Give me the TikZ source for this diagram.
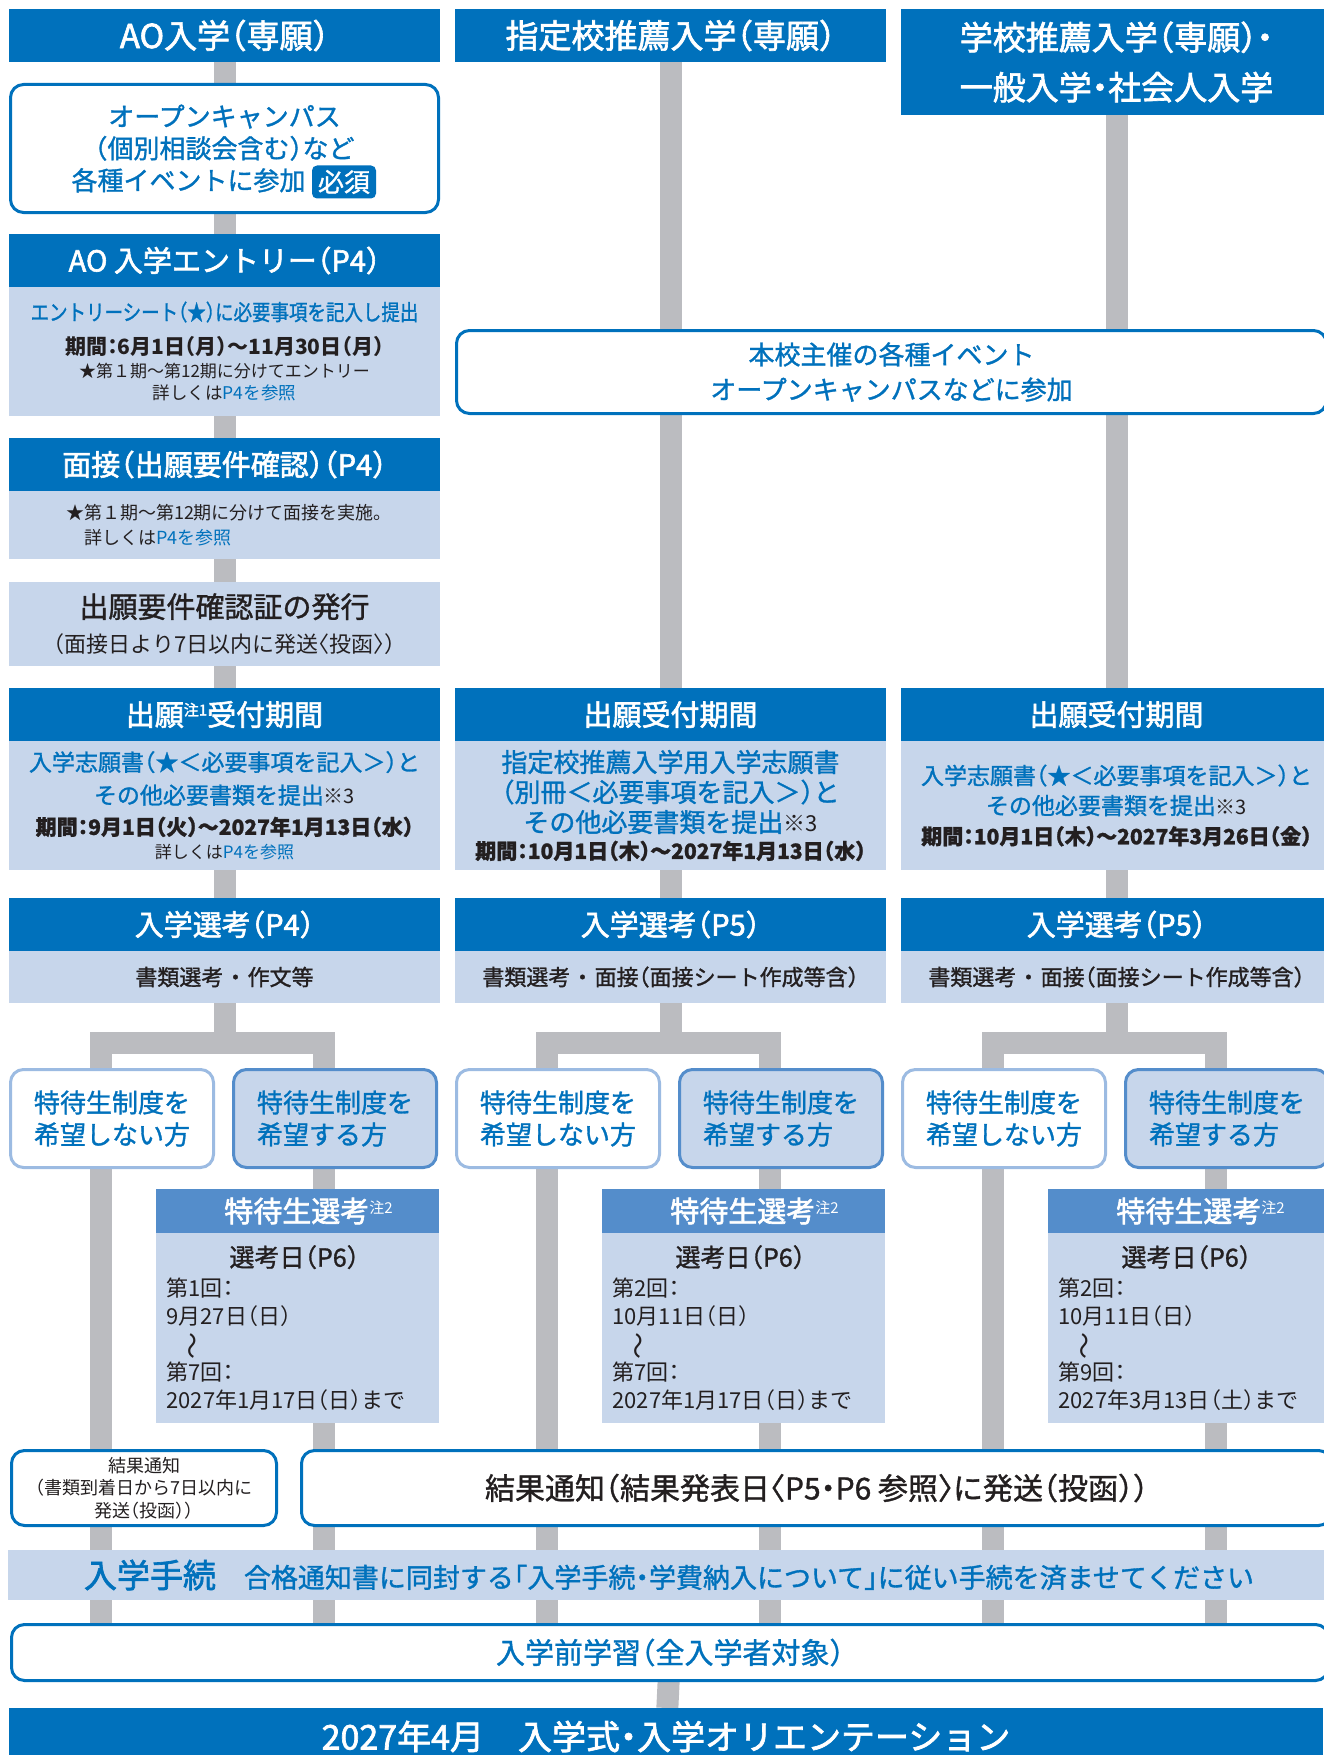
\documentclass[tikz,border=0pt]{standalone}
\usepackage{fontspec}
\setmainfont{Noto Sans CJK JP}[RawFeature=+halt, FakeBold=1.2]
\newfontfamily\thinf{Noto Sans CJK JP}[RawFeature=+halt]
\newfontfamily\headf{Noto Sans CJK JP}[RawFeature=+halt, FakeBold=2]
\usepackage{graphicx}
\usetikzlibrary{positioning,backgrounds}
\definecolor{hdblue}{HTML}{0071BC}
\definecolor{pale}{HTML}{C7D6EB}
\definecolor{trunkgray}{HTML}{BBBCC0}
\definecolor{midblue}{HTML}{548DCB}
\definecolor{lineblue}{HTML}{9CBBE2}
\definecolor{ink}{HTML}{231F20}
\newcommand\fsz[2]{\fontsize{#1}{#2}\selectfont}
\tikzset{
  base/.style={inner sep=0pt, outer sep=0pt, align=center},
  head/.style={base, rectangle, fill=hdblue, text=white, minimum width=431pt, minimum height=53pt, font=\headf\fsz{29}{34}},
  pane/.style={base, rectangle, fill=pale, text=ink, minimum width=431pt},
  ring/.style={base, rectangle, rounded corners=13pt, draw=hdblue, line width=3pt, fill=white},
  nobox/.style={base, rectangle, rounded corners=13pt, draw=lineblue, line width=3pt, fill=white, text=hdblue, minimum width=203pt, minimum height=98pt, align=left, font=\fsz{26}{32}},
  yesbox/.style={nobox, draw=midblue, fill=pale},
  tokhead/.style={base, rectangle, fill=midblue, text=white, minimum width=283pt, minimum height=44pt, font=\headf\fsz{29}{34}},
  tokbody/.style={base, rectangle, fill=pale, text=ink, minimum width=283pt, minimum height=190pt, text width=262pt, align=left, font=\thinf\fsz{22}{28}},
  trunk/.style={draw=trunkgray, line width=22pt}
}

\begin{document}
\begin{tikzpicture}[x=1pt, y=-1pt]
  \useasboundingbox (0,0) rectangle (1323,1755);
  \begin{scope}[on background layer]
    \fill[white] (0,0) rectangle (1323,1755);
  \end{scope}

  % AO column
  \node[head, anchor=north west, font=\headf\fsz{33}{38}] (aohd) at (9,9) {AO入学（専願）};
  \node[ring, anchor=north west, minimum width=428pt, minimum height=128pt, text=hdblue, font=\fsz{26}{32}] (aoevt) at (10.5,84.5) {オープンキャンパス\\（個別相談会含む）など\\各種イベントに参加\hspace*{72pt}};
  \node[base, rectangle, fill=hdblue, text=white, rounded corners=5pt, minimum width=64pt, minimum height=33pt, font=\fsz{26}{30}] (must) at (344,182) {必須};
  \node[head, anchor=north west] (enthd) at (9,234) {AO 入学エントリー（P4）};
  \node[pane, below=0pt of enthd, minimum height=129pt, font=\thinf\fsz{17}{22.5}] (entbd) {{\color{hdblue}\normalfont\fsz{22}{24}\addfontfeature{FakeStretch=0.84}エントリーシート（★）に必要事項を記入し提出}\\[12pt]
    {\bfseries\fsz{21}{24}期間：6月1日（月）～11月30日（月）}\\
    ★第１期～第12期に分けてエントリー\\
    {\fsz{17.5}{22}詳しくは\color{hdblue}P4を参照}};
  \node[head, anchor=north west] (mshd) at (9,438) {面接（出願要件確認）（P4）};
  \node[pane, below=0pt of mshd, minimum height=68pt, align=left, font=\thinf\fsz{18}{25}] (msbd) {★第１期～第12期に分けて面接を実施。\\\hspace*{1em}詳しくは{\color{hdblue}P4を参照}};
  \node[pane, anchor=north west, minimum height=84pt, font=\thinf\fsz{22}{35}] (cert) at (9,582) {{\normalfont\fsz{29}{34}出願要件確認証の発行}\\（面接日より7日以内に発送〈投函〉）};
  \node[head, anchor=north west] (ap1hd) at (9,688) {出願\raisebox{10pt}{\fsz{15}{15}注1}受付期間};
  \node[pane, below=0pt of ap1hd, minimum height=129pt, font=\fsz{23}{33}] (ap1bd) {{\color{hdblue}入学志願書（★＜必要事項を記入＞）と}\\
    {\color{hdblue}その他必要書類を提出}{\thinf\fsz{20}{24}※3}\\[-2pt]
    {\bfseries\fsz{21}{24}期間：9月1日（火）～2027年1月13日（水）}\\[-9.5pt]
    {\thinf\fsz{17}{20}詳しくは\color{hdblue}P4を参照}};
  \node[head, anchor=north west] (selhd1) at (9,898) {入学選考（P4）};
  \node[pane, below=0pt of selhd1, minimum height=52pt, font=\fsz{22}{26}] (selbd1) {書類選考\hspace{0.3em}・\hspace{0.3em}作文等};

  % designated school column
  \node[head, anchor=north west, font=\headf\fsz{33}{38}] (shhd) at (455,9) {指定校推薦入学（専願）};
  \node[ring, anchor=north west, minimum width=870pt, minimum height=83pt, text=hdblue, font=\fsz{26}{35}] (evt) at (456.5,330.5) {本校主催の各種イベント\\オープンキャンパスなどに参加};
  \node[head, anchor=north west] (ap2hd) at (455,688) {出願受付期間};
  \node[pane, below=0pt of ap2hd, minimum height=129pt, font=\fsz{26}{30}] (ap2bd) {{\color{hdblue}指定校推薦入学用入学志願書}\\
    {\color{hdblue}（別冊＜必要事項を記入＞）と}\\
    {\color{hdblue}その他必要書類を提出}{\thinf\fsz{22}{26}※3}\\[-3pt]
    {\bfseries\fsz{21}{24}期間：10月1日（木）～2027年1月13日（水）}};
  \node[head, anchor=north west] (selhd2) at (455,898) {入学選考（P5）};
  \node[pane, below=0pt of selhd2, minimum height=52pt, font=\fsz{22}{26}] (selbd2) {書類選考\hspace{0.3em}・\hspace{0.3em}面接（面接シート作成等含）};

  % general column
  \node[head, anchor=north west, minimum height=106pt, font=\headf\fsz{33}{50}] (gnhd) at (901,9) {学校推薦入学（専願）・\\一般入学・社会人入学};
  \node[head, anchor=north west] (ap3hd) at (901,688) {出願受付期間};
  \node[pane, below=0pt of ap3hd, minimum height=129pt, font=\fsz{23}{30}] (ap3bd) {{\color{hdblue}入学志願書（★＜必要事項を記入＞）と}\\
    {\color{hdblue}その他必要書類を提出}{\thinf\fsz{20}{24}※3}\\
    {\bfseries\fsz{21}{24}期間：10月1日（木）～2027年3月26日（金）}};
  \node[head, anchor=north west] (selhd3) at (901,898) {入学選考（P5）};
  \node[pane, below=0pt of selhd3, minimum height=52pt, font=\fsz{22}{26}] (selbd3) {書類選考\hspace{0.3em}・\hspace{0.3em}面接（面接シート作成等含）};

  % common steps
  \node[ring, anchor=north west, minimum width=265pt, minimum height=75pt, text=ink, font=\thinf\fsz{18}{22.5}] (res1) at (11.5,1450.5) {結果通知\\（書類到着日から7日以内に\\発送（投函））};
  \node[ring, anchor=north west, minimum width=1030pt, minimum height=75pt, text=ink, font=\fsz{30}{34}] (res2) at (301.5,1450.5) {結果通知（結果発表日〈P5・P6 参照〉に発送（投函））};
  \node[base, rectangle, fill=pale, text=hdblue, anchor=north west, minimum width=1322pt, minimum height=50pt] (proc) at (8,1550) {{\headf\fsz{33}{36}入学手続}\hspace{28pt}{\fsz{27}{30}合格通知書に同封する「入学手続・学費納入について」に従い手続を済ませてください}};
  \node[ring, anchor=north west, minimum width=1317pt, minimum height=56pt, text=hdblue, font=\fsz{29}{34}] (pre) at (11.5,1624.5) {入学前学習（全入学者対象）};
  \node[base, rectangle, fill=hdblue, text=white, anchor=north west, minimum width=1314pt, minimum height=57pt, font=\headf\fsz{34}{38}] (ent) at (9,1708) {2027年4月　入学式・入学オリエンテーション};

  % scholarship branches
  \foreach \x/\c/\ra/\da/\rb/\db in {9/1/第1回/9月27日（日）/第7回/2027年1月17日（日）,
      455/2/第2回/10月11日（日）/第7回/2027年1月17日（日）,
      901/3/第2回/10月11日（日）/第9回/2027年3月13日（土）}{
    \node[nobox, anchor=north west] (no\c) at (\x+1.5,1069.5) {特待生制度を\\希望しない方};
    \node[yesbox, anchor=north west] (yes\c) at (\x+224.5,1069.5) {特待生制度を\\希望する方};
    \node[tokhead, anchor=north west] (tkh\c) at (\x+147,1189) {\hspace*{22pt}特待生選考\raisebox{9pt}{\thinf\fsz{15}{15}注2}};
    \node[tokbody, below=0pt of tkh\c] (tkb\c) {\noindent\hspace*{63pt}{\normalfont\fsz{25}{28}選考日（P6）}\\[2pt]
      \ra：\\\da\\\hspace*{22pt}\smash{\fsz{27}{28}\rotatebox[origin=c]{90}{～}}\\\rb：\\\db まで};
    \coordinate[below=40pt of selbd\c] (fork\c);
    \begin{scope}[on background layer]
      \draw[trunk] (selbd\c) -- (fork\c);
      \draw[trunk] ([xshift=-11pt]no\c.north) |- (fork\c) -| ([xshift=-11pt]yes\c.north);
      \draw[trunk] ([xshift=-11pt]no\c.south) -- ([xshift=-11pt]no\c.south |- pre.north);
      \draw[trunk] ([xshift=-11pt]yes\c.south) -- ([xshift=-11pt]yes\c.south |- pre.north);
    \end{scope}
  }

  \begin{scope}[on background layer]
    \draw[trunk] (aohd) -- (selbd1);
    \draw[trunk] (shhd) -- (selbd2);
    \draw[trunk] (gnhd) -- (selbd3);
    \draw[trunk] (pre) -- (ent);
  \end{scope}
\end{tikzpicture}
\end{document}
